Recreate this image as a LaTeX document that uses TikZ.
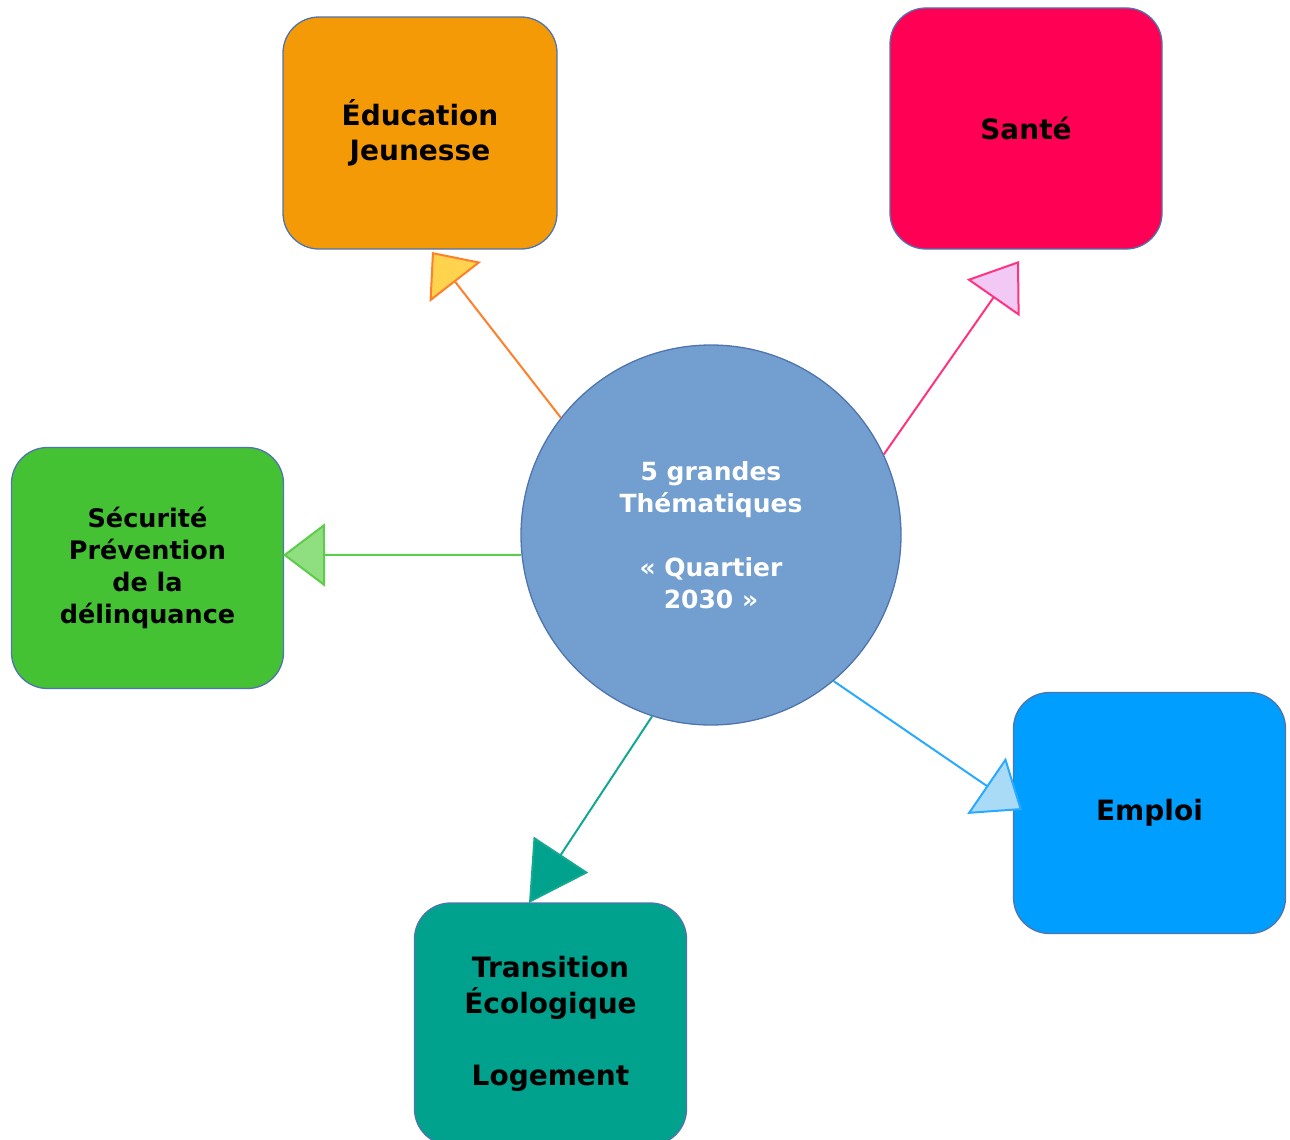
\documentclass[tikz,border=0pt]{standalone}
\usepackage{fontspec}
\setmainfont{DejaVu Sans}
\usetikzlibrary{arrows.meta}
\definecolor{boxborder}{HTML}{4F74AE}
\definecolor{eduorange}{HTML}{F59A07}
\definecolor{santepink}{HTML}{FF0055}
\definecolor{secgreen}{HTML}{44C234}
\definecolor{empblue}{HTML}{009EFF}
\definecolor{transteal}{HTML}{00A28E}
\definecolor{circblue}{HTML}{729FCF}
\definecolor{lnorange}{HTML}{FF7F2A}
\definecolor{hdyellow}{HTML}{FFD34D}
\definecolor{lnpink}{HTML}{FF3380}
\definecolor{hdpink}{HTML}{F2C8F5}
\definecolor{lngreen}{HTML}{5CCC4A}
\definecolor{hdgreen}{HTML}{8FDE80}
\definecolor{lnblue}{HTML}{2AAAFF}
\definecolor{hdblue}{HTML}{A9DBF7}
\definecolor{lnteal}{HTML}{14A890}
\begin{document}
\begin{tikzpicture}[x=1pt,y=-1pt,
  themebox/.style={draw=boxborder, line width=1.3pt, rounded corners=36pt,
    minimum width=272pt, minimum height=241pt, inner sep=0pt, align=center,
    font=\bfseries\fontsize{28}{35}\selectfont, text=black},
  hub/.style={circle, draw=boxborder, line width=1.3pt, fill=circblue,
    minimum size=380pt, inner sep=0pt, align=center,
    font=\bfseries\fontsize{25}{32}\selectfont, text=white},
  conn/.style={line width=2pt, draw=#1},
]
\useasboundingbox (0,0) rectangle (1290,1140);
\clip (0,0) rectangle (1290,1140);

\node[themebox, fill=eduorange, minimum width=274pt, minimum height=232pt] (edu) at (420,133) {Éducation\\Jeunesse};
\node[themebox, fill=santepink] (sante) at (1026,128.5) {Santé};
\node[themebox, fill=secgreen, font=\bfseries\fontsize{25.5}{32}\selectfont] (secu) at (147.5,568) {Sécurité\\Prévention\\de la\\délinquance};
\node[themebox, fill=empblue] (emploi) at (1149.5,813) {Emploi};
\node[themebox, fill=transteal, minimum height=242pt, font=\bfseries\fontsize{28}{36}\selectfont] (trans) at (550.5,1024) {Transition\\Écologique\\[36pt]Logement};

\node[hub] (hub) at (711,535) {5 grandes\\Thématiques\\[32pt]« Quartier\\2030 »};

\coordinate (tipedu) at (432,252);
\coordinate (tipsante) at (1019,261);
\coordinate (tipsecu) at (283,555);
\coordinate (tipemploi) at (1022,810);
\coordinate (tiptrans) at (529,903);

\draw[conn=lnorange, -{Triangle[length=38pt,width=65pt,fill=hdyellow]}] (hub.142) -- (tipedu);
\draw[conn=lnpink, -{Triangle[length=45pt,width=64pt,fill=hdpink]}] (hub.25.6) -- (tipsante);
\draw[conn=lngreen, -{Triangle[length=42pt,width=63pt,fill=hdgreen]}] (hub.186.9) -- (tipsecu);
\draw[conn=lnblue, -{Triangle[length=43pt,width=68pt,fill=hdblue]}] (hub.-50.3) -- (tipemploi);
\draw[conn=lnteal, -{Triangle[length=58pt,width=65pt,fill=transteal]}] (hub.252.7) -- (tiptrans);
\end{tikzpicture}
\end{document}
